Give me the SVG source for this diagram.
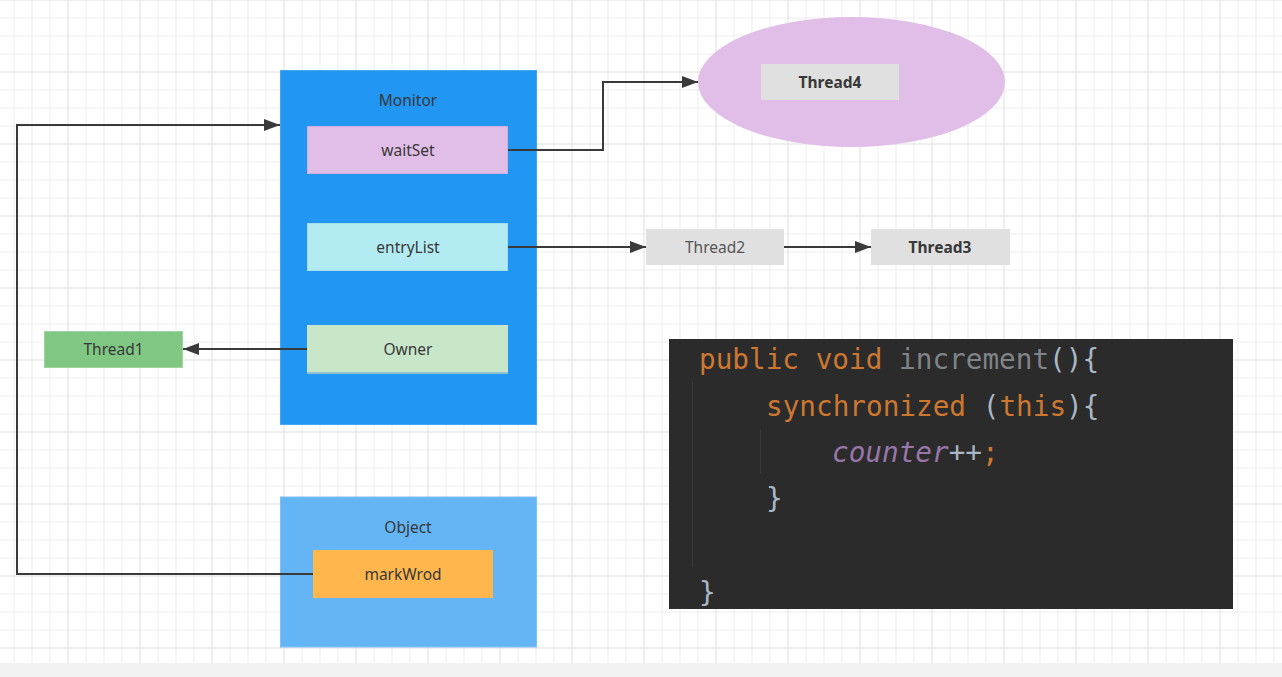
<svg xmlns="http://www.w3.org/2000/svg" width="1282" height="677" viewBox="0 0 1282 677">
<style>
.lbl{font-family:"Noto Sans","Open Sans","DejaVu Sans",sans-serif;font-size:15.5px;fill:#383838;text-anchor:middle}
.b{font-weight:bold}
.conn{fill:none;stroke:#3a3a3a;stroke-width:2}
.code{font-family:"DejaVu Sans Mono","Liberation Mono",monospace;font-size:27.7px}
.o{fill:#CC7832}.g{fill:#A9B7C6}.d{fill:#808387}.p{fill:#9876AA;font-style:italic}
</style>
<defs>
<pattern id="grid" patternUnits="userSpaceOnUse" x="-4.5" y="-0.5" width="72" height="72">
<path d="M18.5 0V72M36.5 0V72M54.5 0V72M0 18.5H72M0 36.5H72M0 54.5H72" stroke="#ececec" stroke-width="1" fill="none"/>
<path d="M0.5 0V72M0 0.5H72" stroke="#dedede" stroke-width="1" fill="none"/>
</pattern>
<marker id="arr" markerUnits="userSpaceOnUse" markerWidth="16" markerHeight="12" refX="16" refY="6" orient="auto">
<path d="M0,0 L16,6 L0,12 z" fill="#3a3a3a"/>
</marker>
</defs>
<rect width="1282" height="677" fill="#fff"/>
<rect width="1282" height="663" fill="url(#grid)"/>
<rect y="663" width="1282" height="14" fill="#f2f2f2"/>

<g id="monitor">
<rect x="280.5" y="70.5" width="256" height="354" fill="#2196F3" stroke="#42A5F5" stroke-width="1"/>
<text class="lbl" x="408" y="106">Monitor</text>
</g>
<g id="waitSet">
<rect x="307.5" y="126.5" width="200" height="47" fill="#E1BEE7" stroke="#D1B0DF" stroke-width="1"/>
<text class="lbl" x="408" y="156">waitSet</text>
</g>
<g id="entryList">
<rect x="307.5" y="223.5" width="200" height="47" fill="#B2EBF2" stroke="#A3DDEA" stroke-width="1"/>
<text class="lbl" x="408" y="253">entryList</text>
</g>
<g id="owner">
<rect x="307" y="325" width="201" height="48" fill="#C8E6C9"/>
<rect x="307" y="372" width="201" height="2" fill="#8fc3cf"/>
<text class="lbl" x="408" y="355">Owner</text>
</g>
<g id="thread1">
<rect x="44.5" y="331.5" width="138" height="36" fill="#81C784" stroke="#9ED6A0" stroke-width="1"/>
<text class="lbl" x="113.5" y="355">Thread1</text>
</g>
<g id="object">
<rect x="280.5" y="497" width="256" height="150" fill="#64B5F6" stroke="#7cc0f7" stroke-width="1"/>
<text class="lbl" x="408" y="533">Object</text>
</g>
<g id="markWrod">
<rect x="313" y="550" width="180" height="48" fill="#FFB74D"/>
<text class="lbl" x="403" y="580">markWrod</text>
</g>
<g id="thread4group">
<ellipse cx="851.5" cy="82" rx="153.5" ry="65" fill="#E1BEE7"/>
</g>
<g id="thread4">
<rect x="761" y="64" width="138" height="36" fill="#E0E0E0"/>
<text class="lbl b" x="830" y="88">Thread4</text>
</g>
<g id="thread2">
<rect x="646" y="229" width="138" height="36" fill="#E0E0E0"/>
<text class="lbl" x="715" y="253" style="fill:#555">Thread2</text>
</g>
<g id="thread3">
<rect x="871" y="229" width="139" height="36" fill="#E0E0E0"/>
<text class="lbl b" x="940" y="253">Thread3</text>
</g>

<g id="connectors">
<polyline class="conn" points="313,574 17,574 17,125 280,125" marker-end="url(#arr)"/>
<polyline class="conn" points="508,150 603,150 603,82 698,82" marker-end="url(#arr)"/>
<line class="conn" x1="508" y1="247" x2="646" y2="247" marker-end="url(#arr)"/>
<line class="conn" x1="784" y1="247" x2="871" y2="247" marker-end="url(#arr)"/>
<line class="conn" x1="307" y1="349" x2="183" y2="349" marker-end="url(#arr)"/>
</g>

<g id="code">
<rect x="669" y="339" width="564" height="270" fill="#2B2B2B"/>
<line x1="692.5" y1="382" x2="692.5" y2="567" stroke="#393939" stroke-width="1"/>
<line x1="760.5" y1="429" x2="760.5" y2="474" stroke="#393939" stroke-width="1"/>
<text class="code" x="699" y="369" xml:space="preserve"><tspan class="o">public void </tspan><tspan class="d">increment</tspan><tspan class="g">(){</tspan></text>
<text class="code" x="766" y="416" xml:space="preserve"><tspan class="o">synchronized </tspan><tspan class="g">(</tspan><tspan class="o">this</tspan><tspan class="g">){</tspan></text>
<text class="code" x="832" y="462" xml:space="preserve"><tspan class="p">counter</tspan><tspan class="g">++</tspan><tspan class="o">;</tspan></text>
<text class="code g" x="766" y="508">}</text>
<text class="code g" x="699" y="602">}</text>
</g>
</svg>
